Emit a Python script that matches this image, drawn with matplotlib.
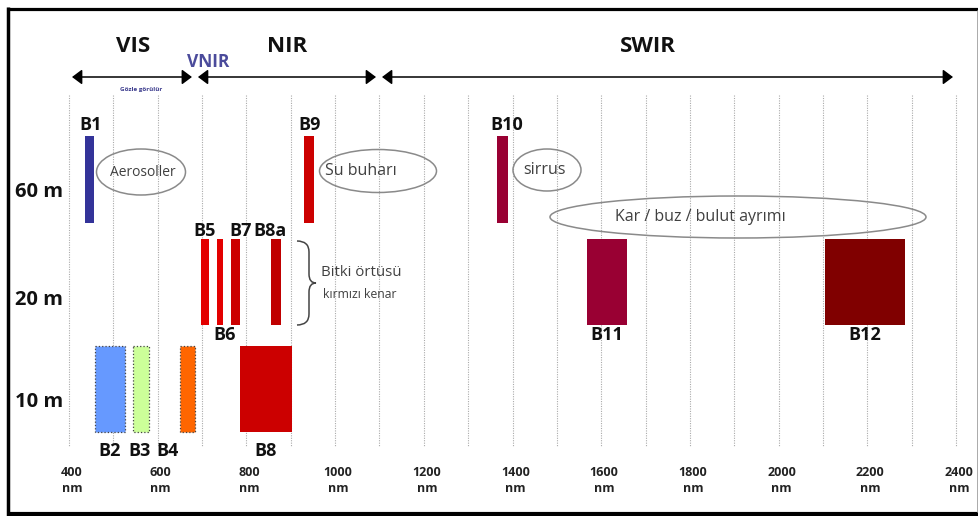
import matplotlib
matplotlib.use("Agg")
import matplotlib.pyplot as plt
from matplotlib.patches import Ellipse, PathPatch
from matplotlib.path import Path
from matplotlib.lines import Line2D

plt.rcParams['font.family'] = ['Open Sans', 'DejaVu Sans']

# ---------------- data ----------------
bands = ['B1', 'B2', 'B3', 'B4', 'B5', 'B6', 'B7', 'B8', 'B8a', 'B9', 'B10', 'B11', 'B12']
wl_start = [436, 458, 545, 650, 697, 734, 765, 786, 855, 930, 1366, 1567, 2104]
wl_end = [457, 527, 580, 683, 715, 748, 786, 902, 878, 953, 1389, 1659, 2285]
resolution_m = [60, 10, 10, 10, 20, 20, 20, 10, 20, 60, 60, 20, 20]
band_colors = ['#333399', '#6699FF', '#CCFF99', '#FF6600', '#E30000', '#E30000',
               '#CC0000', '#CC0000', '#C00000', '#CC0000', '#990033', '#990033', '#800000']
resolutions = [60, 20, 10]
res_labels = ['60 m', '20 m', '10 m']
region_names = ['VIS', 'NIR', 'SWIR']
region_bounds = [400, 684, 1099, 2400]
tick_values = [400, 600, 800, 1000, 1200, 1400, 1600, 1800, 2000, 2200, 2400]
grid_values = list(range(400, 2401, 100))

# ---------------- layout helpers (pixel geometry) ----------------
W, H = 979, 516
PX0, PXS = 69.0, 0.4435   # pixel of 400 nm, pixels per nm


def wl(px):
    return 400 + (px - PX0) / PXS


def nmw(pxw):
    return pxw / PXS


row_span = {60: (136, 223), 20: (239, 325), 10: (346, 432)}
row_label_y = {60: 192, 20: 300, 10: 402}
label_pos = {  # y (px) and x offset (px) for band names
    'B1': (125, 1), 'B9': (125, 0), 'B10': (125, 4),
    'B5': (231, 0), 'B7': (231, 5), 'B8a': (231, -6),
    'B6': (335, 4), 'B11': (335, 0), 'B12': (335, 0),
    'B2': (451, 0), 'B3': (451, -2), 'B4': (451, -20), 'B8': (451, 0),
}

fig = plt.figure(figsize=(W / 100, H / 100), dpi=100)
ax = fig.add_axes([0, 0, 1, 1])
ax.set_xlim(wl(0), wl(W))
ax.set_ylim(H, 0)
ax.axis('off')

# grid lines
for g in grid_values:
    ax.plot([g, g], [95, 447], color='#AAAAAA', lw=0.8, ls=(0, (1, 1.2)), zorder=1)

# bands
for name, s, e, r, c in zip(bands, wl_start, wl_end, resolution_m, band_colors):
    top, bot = row_span[r]
    dotted = name in ('B2', 'B3', 'B4')
    ax.bar(s, bot - top, width=e - s, bottom=top, align='edge', color=c,
           edgecolor='#444444' if dotted else 'none', linestyle=':' if dotted else '-',
           linewidth=0.9 if dotted else 0, zorder=3)
    ly, dx = label_pos[name]
    ax.text((s + e) / 2 + nmw(dx), ly, name, ha='center', va='center',
            fontsize=13, fontweight='bold', color='#111111', zorder=4)

# resolution labels
for r, lab in zip(resolutions, res_labels):
    ax.text(wl(15), row_label_y[r], lab, ha='left', va='center',
            fontsize=14.5, fontweight='bold', color='#111111')

# tick labels
for t in tick_values:
    ax.text(t + nmw(3), 472, str(t), ha='center', va='center', fontsize=9,
            fontweight='bold', color='#222222')
    ax.text(t + nmw(3), 488, 'nm', ha='center', va='center', fontsize=9,
            fontweight='bold', color='#222222')

# spectral region arrows and names
arrow_y = 77
region_label_x = [544, 891, 1705]
for i, name in enumerate(region_names):
    a, b = region_bounds[i], region_bounds[i + 1]
    ax.annotate('', xy=(b - nmw(3), arrow_y), xytext=(a + nmw(3), arrow_y),
                arrowprops=dict(arrowstyle='<|-|>,head_length=0.6,head_width=0.45',
                                color='black', lw=1.1, shrinkA=0, shrinkB=0,
                                mutation_scale=10))
    ax.text(region_label_x[i], 47, name, ha='center', va='center', fontsize=16,
            fontweight='bold', color='#111111')
ax.text(wl(208), 62, 'VNIR', ha='center', va='center', fontsize=12.5,
        fontweight='bold', color='#4B4B9B')
ax.text(wl(141), 89, 'Gözle görülür', ha='center', va='center', fontsize=4.5,
        fontweight='bold', color='#3A3A8C')

# ellipses with notes
notes = [
    ('Aerosoller', 141, 172, 89, 46, 142.5, 10),
    ('Su buharı', 378, 171, 117, 43, 361, 11.5),
    ('sirrus', 547, 170, 68, 42, 545, 11.5),
    ('Kar / buz / bulut ayrımı', 738, 217, 376, 42, 700, 11.5),
]
for txt, cx, cy, w, h, tx, fs in notes:
    ax.add_patch(Ellipse((wl(cx), cy), nmw(w), h, facecolor='none',
                         edgecolor='#8A8A8A', lw=1.1, zorder=5))
    ax.text(wl(tx), cy, txt, ha='center', va='center', fontsize=fs,
            color='#404040', zorder=6)

# curly brace
verts = [(297, 241), (309, 241), (309, 252), (309, 274), (309, 283), (316, 283),
         (309, 283), (309, 292), (309, 314), (309, 325), (297, 325)]
codes = [Path.MOVETO, Path.CURVE3, Path.CURVE3, Path.LINETO, Path.CURVE3, Path.CURVE3,
         Path.CURVE3, Path.CURVE3, Path.LINETO, Path.CURVE3, Path.CURVE3]
verts = [(wl(x), y) for x, y in verts]
ax.add_patch(PathPatch(Path(verts, codes), facecolor='none', edgecolor='#444444', lw=1.1))
ax.text(wl(321), 273, 'Bitki örtüsü', ha='left', va='center', fontsize=10.8, color='#404040')
ax.text(wl(323), 294, 'kırmızı kenar', ha='left', va='center', fontsize=8.8, color='#404040')

# frame
def fl(x0, y0, x1, y1, lw, color):
    fig.add_artist(Line2D([x0 / W, x1 / W], [1 - y0 / H, 1 - y1 / H], lw=lw,
                          color=color, transform=fig.transFigure, solid_capstyle='butt'))

fl(7, 8.5, W, 8.5, 2.3, 'black')
fl(8.5, 7, 8.5, H, 2.5, 'black')
fl(7, 513.5, W, 513.5, 3.0, 'black')
fl(977, 10, 977, 512, 0.7, '#AAAAAA')

fig.savefig('out.png', dpi=100, facecolor='white')
